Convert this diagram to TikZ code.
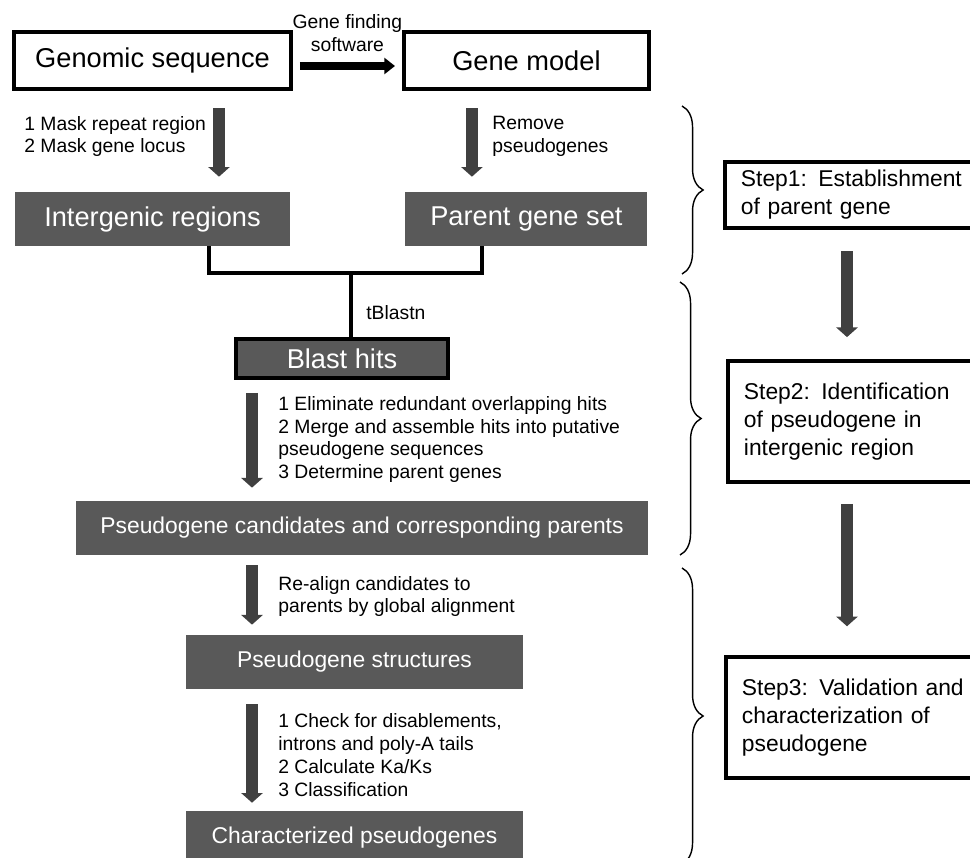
\documentclass[tikz,border=0pt]{standalone}
\usepackage{fontspec}
\setmainfont{Liberation Sans}
\usepackage{xcolor}
\usetikzlibrary{positioning,arrows.meta,decorations.pathreplacing}

\definecolor{boxgray}{HTML}{595959}
\definecolor{arrowgray}{HTML}{404040}

\begin{document}
\begin{tikzpicture}[x=0.02cm,y=-0.02cm,every node/.style={on grid},
    plainbox/.style={draw,line width=2.2pt,minimum height=1.14cm},
    greybox/.style={fill=boxgray,text=white,minimum height=1.08cm},
    stepbox/.style={draw,line width=2.2pt,anchor=west,align=left,text width=4.6cm,inner xsep=0.32cm,font=\fontsize{13}{16}\selectfont},
    note/.style={anchor=west,align=left,inner sep=0pt,font=\fontsize{11}{13}\selectfont},
    flow/.style={color=arrowgray,line width=6.5pt,-{Triangle[length=5.5pt,width=12pt]}},
    joinline/.style={line width=2.2pt},
    bigtext/.style={font=\fontsize{15.5}{18}\selectfont},
    midtext/.style={font=\fontsize{13}{16}\selectfont},
    curly/.style={decorate,decoration={brace,amplitude=12pt},line width=0.8pt}]
    \useasboundingbox (0,0) rectangle (970,858);
    \clip (0,0) rectangle (970,858);

    % left column
    \node[plainbox,bigtext,minimum width=5.54cm] (genomic) at (152.5,60.5) {Genomic sequence};
    \node[plainbox,bigtext,minimum width=4.9cm,node distance=7.48cm,right of=genomic] (genemodel) {Gene model};
    \node[greybox,bigtext,minimum width=5.5cm,node distance=3.17cm,below of=genomic] (intergenic) {Intergenic regions};
    \node[greybox,bigtext,minimum width=4.84cm,node distance=3.17cm,below of=genemodel] (parentset) {Parent gene set};
    \node[greybox,bigtext,draw=black,line width=2.2pt,minimum width=4.24cm,minimum height=0.78cm] (blast) at (342,358.5) {Blast hits};
    \node[greybox,midtext,minimum width=11.44cm] (candidates) at (362,528) {Pseudogene candidates and corresponding parents};
    \node[greybox,midtext,minimum width=6.74cm] (structures) at (354.5,662) {Pseudogene structures};
    \node[greybox,midtext,minimum width=6.74cm,node distance=3.52cm,below of=structures] (characterized) {Characterized pseudogenes};

    \node[note] (masknote) at (24,136.5) {1 Mask repeat region\\2 Mask gene locus};
    \node[note] (removenote) at (492,136.5) {Remove\\pseudogenes};
    \node[note] (tblastn) at (366,313) {tBlastn};
    \node[note] (hitnote) at (278,439.5) {1 Eliminate redundant overlapping hits\\2 Merge and assemble hits into putative\\pseudogene sequences\\3 Determine parent genes};
    \node[note] (realignnote) at (278,596.5) {Re-align candidates to\\parents by global alignment};
    \node[note] (checknote) at (278,755) {1 Check for disablements,\\introns and poly-A tails\\2 Calculate Ka/Ks\\3 Classification};

    \draw[line width=4pt,shorten <=4pt,shorten >=4pt,-{Triangle[length=6pt,width=9pt]}] ([yshift=-0.11cm]genomic.east) -- node[above=3pt,align=center,font=\fontsize{11}{13}\selectfont] (swlabel) {Gene finding\\software} ([yshift=-0.11cm]genemodel.west);
    \draw[flow,shorten <=10pt,shorten >=8.5pt] ([xshift=1.33cm]genomic.south) -- ([xshift=1.33cm]intergenic.north);
    \draw[flow,shorten <=10pt,shorten >=8.5pt] ([xshift=-1.09cm]genemodel.south) -- ([xshift=-1.09cm]parentset.north);

    \coordinate (lftleg) at (209,273);
    \coordinate (rgtleg) at (482,273);
    \coordinate (join) at (351,273);
    \draw[joinline] (intergenic.south -| lftleg) -- (lftleg) -- (rgtleg) -- (parentset.south -| rgtleg);
    \draw[joinline] (join) -- (blast.north -| join);

    \coordinate (lcol) at (252,0);
    \draw[flow,shorten <=7.4pt,shorten >=7.4pt] (blast.south -| lcol) -- (candidates.north -| lcol);
    \draw[flow,shorten <=5.7pt,shorten >=5.7pt] (candidates.south -| lcol) -- (structures.north -| lcol);
    \draw[flow,shorten <=8.5pt,shorten >=4.5pt] (structures.south -| lcol) -- (characterized.north -| lcol);

    % right column
    \node[stepbox,minimum height=1.32cm] (step1) at (723,195) {Step1: Establishment\\of parent gene};
    \node[stepbox,minimum height=2.42cm] (step2) at (726,421.5) {Step2: Identification\\of pseudogene in\\intergenic region};
    \node[stepbox,minimum height=2.42cm] (step3) at (724,717.5) {Step3: Validation and\\characterization of\\pseudogene};

    \coordinate (rcol) at (847,0);
    \draw[flow,shorten <=12pt,shorten >=12.5pt] (step1.south -| rcol) -- (step2.north -| rcol);
    \draw[flow,shorten <=11.3pt,shorten >=16.4pt] (step2.south -| rcol) -- (step3.north -| rcol);

    \draw[curly] (682,106) -- (682,274);
    \draw[curly] (680,282) -- (680,555);
    \draw[curly] (682,568) -- (682,864);
  \end{tikzpicture}
\end{document}
